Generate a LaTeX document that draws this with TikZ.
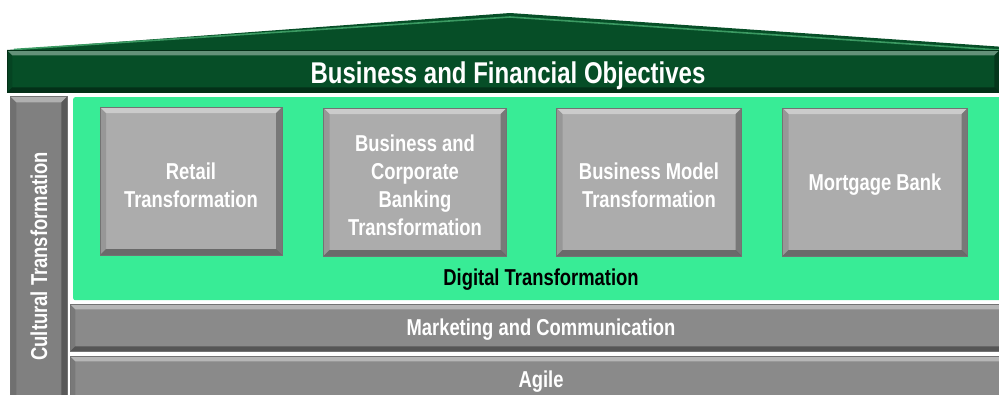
\documentclass[tikz,border=0pt]{standalone}
\usepackage{fontspec}
\setmainfont{Liberation Sans}[FakeStretch=0.8]
\definecolor{dkgreen}{HTML}{064E27}
\definecolor{ltgreen}{HTML}{3B9A62}
\definecolor{brgreen}{HTML}{38EC96}
\definecolor{boxgray}{HTML}{ACACAC}
\definecolor{bargray}{HTML}{8A8A8A}
\definecolor{colgray}{HTML}{808080}
\tikzset{
  bevel/.style 2 args={fill=#1, path picture={
    \def\bevw{#2}
    \path (path picture bounding box.north west) coordinate (A)
          (path picture bounding box.north east) coordinate (B)
          (path picture bounding box.south east) coordinate (C)
          (path picture bounding box.south west) coordinate (D);
    \fill[white,opacity=.38] (A) -- (B) -- ([shift={(-\bevw,-\bevw)}]B) -- ([shift={(\bevw,-\bevw)}]A) -- cycle;
    \fill[black,opacity=.38] (D) -- (C) -- ([shift={(-\bevw,\bevw)}]C) -- ([shift={(\bevw,\bevw)}]D) -- cycle;
    \fill[black,opacity=.30] (B) -- (C) -- ([shift={(-\bevw,\bevw)}]C) -- ([shift={(-\bevw,-\bevw)}]B) -- cycle;
    \fill[black,opacity=.12] (A) -- (D) -- ([shift={(\bevw,\bevw)}]D) -- ([shift={(\bevw,-\bevw)}]A) -- cycle;
  }},
  panel/.style={rectangle, inner sep=0pt, draw=black!55, line width=0.6pt},
  boxtext/.style={text=white, align=center, font=\bfseries\fontsize{23}{28}\selectfont},
  titletext/.style={text=white, font=\bfseries\fontsize{30}{34}\selectfont},
}
\begin{document}
\begin{tikzpicture}[x=1pt,y=-1pt]
\useasboundingbox (0,0) rectangle (999,394);
% roof
\fill[dkgreen] (7,50) -- (510,13) -- (1005,47) -- (1005,52) -- (7,52) -- cycle;
\draw[ltgreen, line width=1.6pt] (14,49.5) -- (510,17) -- (999,50);
% banner
\node[panel, draw=dkgreen!60!black, bevel={dkgreen}{5pt}, minimum width=992pt, minimum height=42pt, anchor=north west] (banner) at (7,50) {};
\node[titletext] (title) at (508,76) {Business and Financial Objectives};
% left column
\node[panel, bevel={colgray}{6pt}, minimum width=57pt, minimum height=320pt, anchor=north west,
      label={[rotate=90, text=white, font=\bfseries\fontsize{23}{28}\selectfont]center:Cultural Transformation}] (cultural) at (10,96) {};
% green digital area
\node[rectangle, fill=brgreen, rounded corners=2pt, minimum width=940pt, minimum height=203pt, anchor=north west] (digital) at (73,97) {};
\node[font=\bfseries\fontsize{23}{28}\selectfont, text=black] (dtlabel) at (541,280) {Digital Transformation};
% four boxes
\node[panel, bevel={boxgray}{6pt}, minimum width=182pt, minimum height=148pt] (retail) at (191,181) {};
\node[boxtext] (retailtext) at (191,185) {Retail\\Transformation};
\node[panel, bevel={boxgray}{6pt}, minimum width=183pt, minimum height=148pt] (corporate) at (415,182) {};
\node[boxtext] (corporatetext) at (415,185) {Business and\\Corporate\\Banking\\Transformation};
\node[panel, bevel={boxgray}{6pt}, minimum width=185pt, minimum height=148pt] (model) at (649,182) {};
\node[boxtext] (modeltext) at (649,185) {Business Model\\Transformation};
\node[panel, bevel={boxgray}{6pt}, minimum width=185pt, minimum height=148pt] (mortgage) at (875,182) {};
\node[boxtext] (mortgagetext) at (875,185) {Mortgage Bank};
% bars
\node[panel, bevel={bargray}{5pt}, minimum width=945pt, minimum height=47pt, anchor=north west] (marketing) at (70,304) {};
\node[boxtext] (mktext) at (541,330) {Marketing and Communication};
\node[panel, bevel={bargray}{5pt}, minimum width=945pt, minimum height=60pt, anchor=north west] (agile) at (70,356) {};
\node[boxtext] (agtext) at (541,382) {Agile};
\end{tikzpicture}
\end{document}
